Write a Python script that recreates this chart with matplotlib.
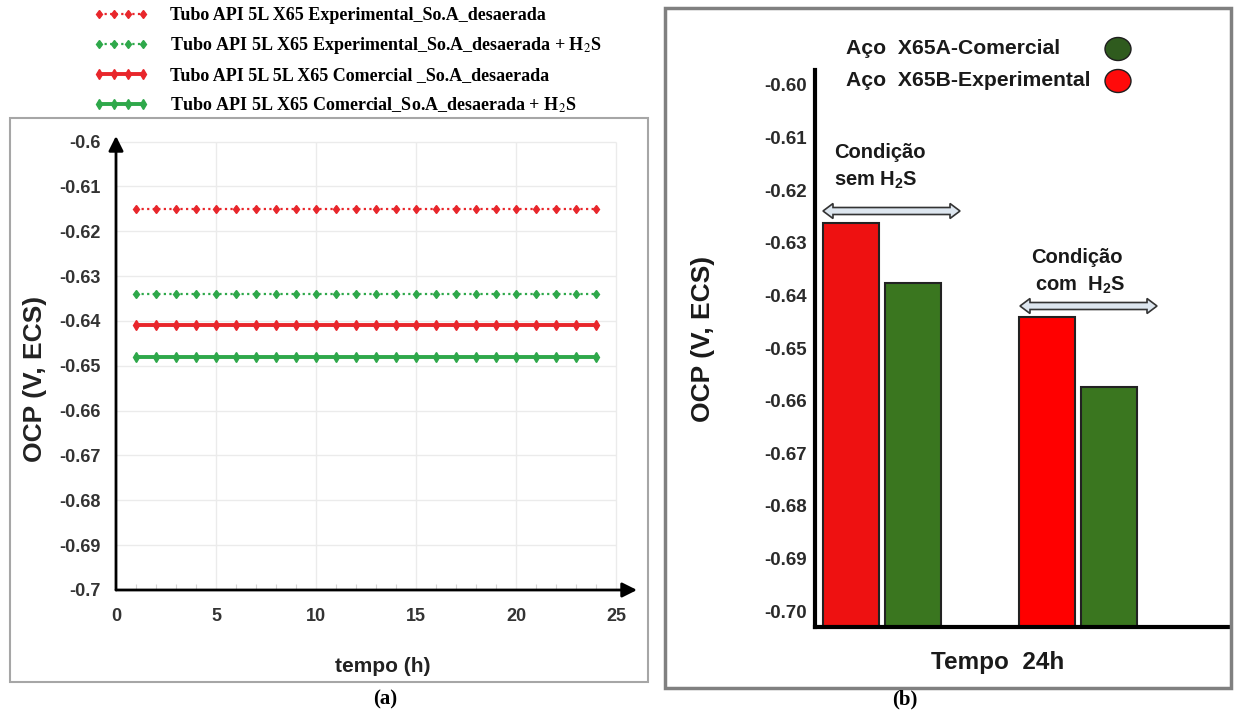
import matplotlib
matplotlib.use('Agg')
import matplotlib.pyplot as plt
from matplotlib.patches import Rectangle, Polygon, Ellipse

# subscrito do H2S em Arial negrito
plt.rcParams['mathtext.fontset'] = 'custom'
plt.rcParams['mathtext.rm'] = 'Liberation Sans:bold'
plt.rcParams['mathtext.it'] = 'Liberation Sans:bold'
plt.rcParams['mathtext.bf'] = 'Liberation Sans:bold'

# ---- dados do painel (a): OCP ao longo de 24 h ----
horas = [1, 2, 3, 4, 5, 6, 7, 8, 9, 10, 11, 12,
         13, 14, 15, 16, 17, 18, 19, 20, 21, 22, 23, 24]
ocp_exp_des = [-0.615, -0.615, -0.615, -0.615, -0.615, -0.615, -0.615, -0.615,
               -0.615, -0.615, -0.615, -0.615, -0.615, -0.615, -0.615, -0.615,
               -0.615, -0.615, -0.615, -0.615, -0.615, -0.615, -0.615, -0.615]
ocp_exp_h2s = [-0.634, -0.634, -0.634, -0.634, -0.634, -0.634, -0.634, -0.634,
               -0.634, -0.634, -0.634, -0.634, -0.634, -0.634, -0.634, -0.634,
               -0.634, -0.634, -0.634, -0.634, -0.634, -0.634, -0.634, -0.634]
ocp_com_des = [-0.641, -0.641, -0.641, -0.641, -0.641, -0.641, -0.641, -0.641,
               -0.641, -0.641, -0.641, -0.641, -0.641, -0.641, -0.641, -0.641,
               -0.641, -0.641, -0.641, -0.641, -0.641, -0.641, -0.641, -0.641]
ocp_com_h2s = [-0.648, -0.648, -0.648, -0.648, -0.648, -0.648, -0.648, -0.648,
               -0.648, -0.648, -0.648, -0.648, -0.648, -0.648, -0.648, -0.648,
               -0.648, -0.648, -0.648, -0.648, -0.648, -0.648, -0.648, -0.648]
legendas_a = ['Tubo API 5L X65 Experimental_So.A_desaerada',
              'Tubo API 5L X65 Experimental_So.A_desaerada + H$_2$S',
              'Tubo API 5L 5L X65 Comercial _So.A_desaerada',
              'Tubo API 5L X65 Comercial_So.A_desaerada + H$_2$S']
ticks_y_a = [-0.6, -0.61, -0.62, -0.63, -0.64, -0.65, -0.66, -0.67, -0.68, -0.69, -0.7]
rotulos_y_a = ['-0.6', '-0.61', '-0.62', '-0.63', '-0.64', '-0.65',
               '-0.66', '-0.67', '-0.68', '-0.69', '-0.7']
ticks_x_a = [0, 5, 10, 15, 20, 25]

# ---- dados do painel (b): OCP apos 24 h ----
grupos = [0, 1]  # sem H2S, com H2S
ocp_experimental = [-0.6262, -0.6441]
ocp_comercial = [-0.6376, -0.6574]
legendas_b = ['Aço  X65A-Comercial', 'Aço  X65B-Experimental']
ticks_y_b = [-0.60, -0.61, -0.62, -0.63, -0.64, -0.65, -0.66, -0.67, -0.68, -0.69, -0.70]
rotulos_y_b = ['-0.60', '-0.61', '-0.62', '-0.63', '-0.64', '-0.65',
               '-0.66', '-0.67', '-0.68', '-0.69', '-0.70']

cor_exp = ['#ee1111', '#ff0000']
cor_com = '#3a761f'

W, H = 1235, 715


def caixa(x0, y0, x1, y1):
    # retangulo em pixels (origem no topo) -> coordenadas da figura
    return [x0 / W, 1 - y1 / H, (x1 - x0) / W, (y1 - y0) / H]


def px(x, y):
    return (x / W, 1 - y / H)


def seta_dupla(fig, x0, x1, y, h=3.5, hc=7.5, lc=10):
    pts = [(x0, y), (x0 + lc, y - hc), (x0 + lc, y - h), (x1 - lc, y - h),
           (x1 - lc, y - hc), (x1, y), (x1 - lc, y + hc), (x1 - lc, y + h),
           (x0 + lc, y + h), (x0 + lc, y + hc)]
    fig.add_artist(Polygon([px(a, b) for a, b in pts], closed=True,
                           transform=fig.transFigure, fc='#dde6ef', ec='#333333', lw=1.2))


fig = plt.figure(figsize=(W / 100, H / 100), dpi=100)

# molduras dos paineis
fig.add_artist(Rectangle(px(10, 682), 638 / W, 564 / H, transform=fig.transFigure,
                         fill=False, ec='#a6a6a6', lw=1.5))
fig.add_artist(Rectangle(px(665, 688), 566 / W, 680 / H, transform=fig.transFigure,
                         fill=False, ec='#808080', lw=2.5))

# ================= painel (a) =================
ax_a = fig.add_axes(caixa(116, 136, 637, 590))
ax_a.set_xlim(0, 26.05)
ax_a.set_ylim(-0.7, -0.59877)
ax_a.hlines(ticks_y_a, 0, 25, color='#ebebeb', lw=1, zorder=0)
ax_a.vlines(ticks_x_a[1:], -0.7, -0.6, color='#ebebeb', lw=1, zorder=0)

vermelho = '#e8262b'
verde = '#2ea84a'
ax_a.plot(horas, ocp_exp_des, color=vermelho, ls=(0, (1, 1.5)), lw=1.6,
          marker='d', ms=4.5, label=legendas_a[0])
ax_a.plot(horas, ocp_exp_h2s, color=verde, ls=(0, (1, 1.5)), lw=1.6,
          marker='d', ms=4.5, label=legendas_a[1])
ax_a.plot(horas, ocp_com_des, color=vermelho, ls='-', lw=2.8,
          marker='d', ms=5.5, label=legendas_a[2])
ax_a.plot(horas, ocp_com_h2s, color=verde, ls='-', lw=2.8,
          marker='d', ms=5.5, label=legendas_a[3])

ax_a.set_yticks(ticks_y_a, rotulos_y_a)
ax_a.set_xticks(ticks_x_a, [str(t) for t in ticks_x_a])
ax_a.set_xticks(horas, minor=True)
ax_a.tick_params(which='major', length=0)
ax_a.tick_params(axis='y', pad=11)
ax_a.tick_params(axis='x', pad=13)
ax_a.tick_params(axis='x', which='minor', direction='in', length=4, color='#d5d5d5', width=0.8)
for lbl in ax_a.get_xticklabels() + ax_a.get_yticklabels():
    lbl.set_fontfamily('Liberation Sans')
    lbl.set_fontweight('bold')
    lbl.set_fontsize(13)
    lbl.set_color('#333333')
for s in ax_a.spines.values():
    s.set_visible(False)

# eixos com seta
seta = dict(arrowstyle='-|>', color='black', lw=2, mutation_scale=22, shrinkA=0, shrinkB=0)
ax_a.annotate('', xy=(1, 0), xytext=(0, 0), xycoords='axes fraction', arrowprops=seta)
ax_a.annotate('', xy=(0, 1), xytext=(0, 0), xycoords='axes fraction', arrowprops=seta)

leg_a = ax_a.legend(loc='upper left', bbox_to_anchor=px(94, 7), bbox_transform=fig.transFigure,
                    frameon=False, prop=dict(family='Liberation Serif', weight='bold', size=13),
                    handlelength=3.0, handletextpad=1.2, labelspacing=0.62, numpoints=4,
                    borderpad=0, borderaxespad=0)
for t in leg_a.get_texts():
    t.set_math_fontfamily('stix')

fig.text(*px(35, 379), 'OCP (V, ECS)', rotation=90, ha='center', va='center',
         fontsize=19, weight='bold', family='Liberation Sans', color='#222222')
fig.text(*px(383, 667), 'tempo (h)', ha='center', va='center',
         fontsize=15, weight='bold', family='Liberation Sans', color='#222222')

# ================= painel (b) =================
ax_b = fig.add_axes(caixa(815, 70, 1228, 627))
base = -0.7030
ax_b.set_ylim(base, -0.59715)
ax_b.set_xlim(-0.342, 1.765)
desloc = 0.158
larg = 0.287
ax_b.bar([g - desloc for g in grupos], [v - base for v in ocp_experimental], larg, bottom=base,
         color=cor_exp, edgecolor='#222222', lw=1.5, zorder=2)
ax_b.bar([g + desloc for g in grupos], [v - base for v in ocp_comercial], larg, bottom=base,
         color=cor_com, edgecolor='#222222', lw=1.5, zorder=2)

for lado in ['top', 'right']:
    ax_b.spines[lado].set_visible(False)
for lado in ['left', 'bottom']:
    ax_b.spines[lado].set_linewidth(3)
    ax_b.spines[lado].set_zorder(3)
ax_b.set_xticks([])
ax_b.set_yticks(ticks_y_b, rotulos_y_b)
ax_b.tick_params(axis='y', length=0, pad=6)
for lbl in ax_b.get_yticklabels():
    lbl.set_fontfamily('Liberation Sans')
    lbl.set_fontweight('bold')
    lbl.set_fontsize(13.5)
    lbl.set_color('#2a2a2a')

# legenda do painel (b): texto alinhado a esquerda e marcador eliptico a direita
fonte_leg = dict(fontsize=15.2, weight='bold', family='Liberation Sans', color='#1a1a1a')
for i, (rot, cor) in enumerate(zip(legendas_b, ['#2f5b1e', '#ff0a0a'])):
    y = 49 + 32 * i
    fig.text(*px(846, y), rot, ha='left', va='center', **fonte_leg)
    fig.add_artist(Ellipse(px(1118, y), 26 / W, 23 / H, transform=fig.transFigure,
                           fc=cor, ec='#1e1e1e', lw=1))

fonte_b = dict(fontsize=14.5, weight='bold', family='Liberation Sans', color='#1a1a1a')
fig.text(*px(834, 152), 'Condição', ha='left', va='center', **fonte_b)
fig.text(*px(834, 180), 'sem H$_2$S', ha='left', va='center', **fonte_b)
fig.text(*px(1077, 258), 'Condição', ha='center', va='center', **fonte_b)
fig.text(*px(1080, 285), 'com  H$_2$S', ha='center', va='center', **fonte_b)
seta_dupla(fig, 823, 960, 211)
seta_dupla(fig, 1020, 1157, 306)

fig.text(*px(703, 339), 'OCP (V, ECS)', rotation=90, ha='center', va='center',
         fontsize=19, weight='bold', family='Liberation Sans', color='#1a1a1a')
fig.text(*px(998, 663), 'Tempo  24h', ha='center', va='center',
         fontsize=17.5, weight='bold', family='Liberation Sans', color='#1a1a1a')

# rotulos dos paineis
fig.text(*px(385, 699), '(a)', ha='center', va='center', fontsize=15,
         weight='bold', family='Liberation Serif')
fig.text(*px(905, 699), '(b)', ha='center', va='center', fontsize=15,
         weight='bold', family='Liberation Serif')

fig.savefig('out.png', dpi=100)
